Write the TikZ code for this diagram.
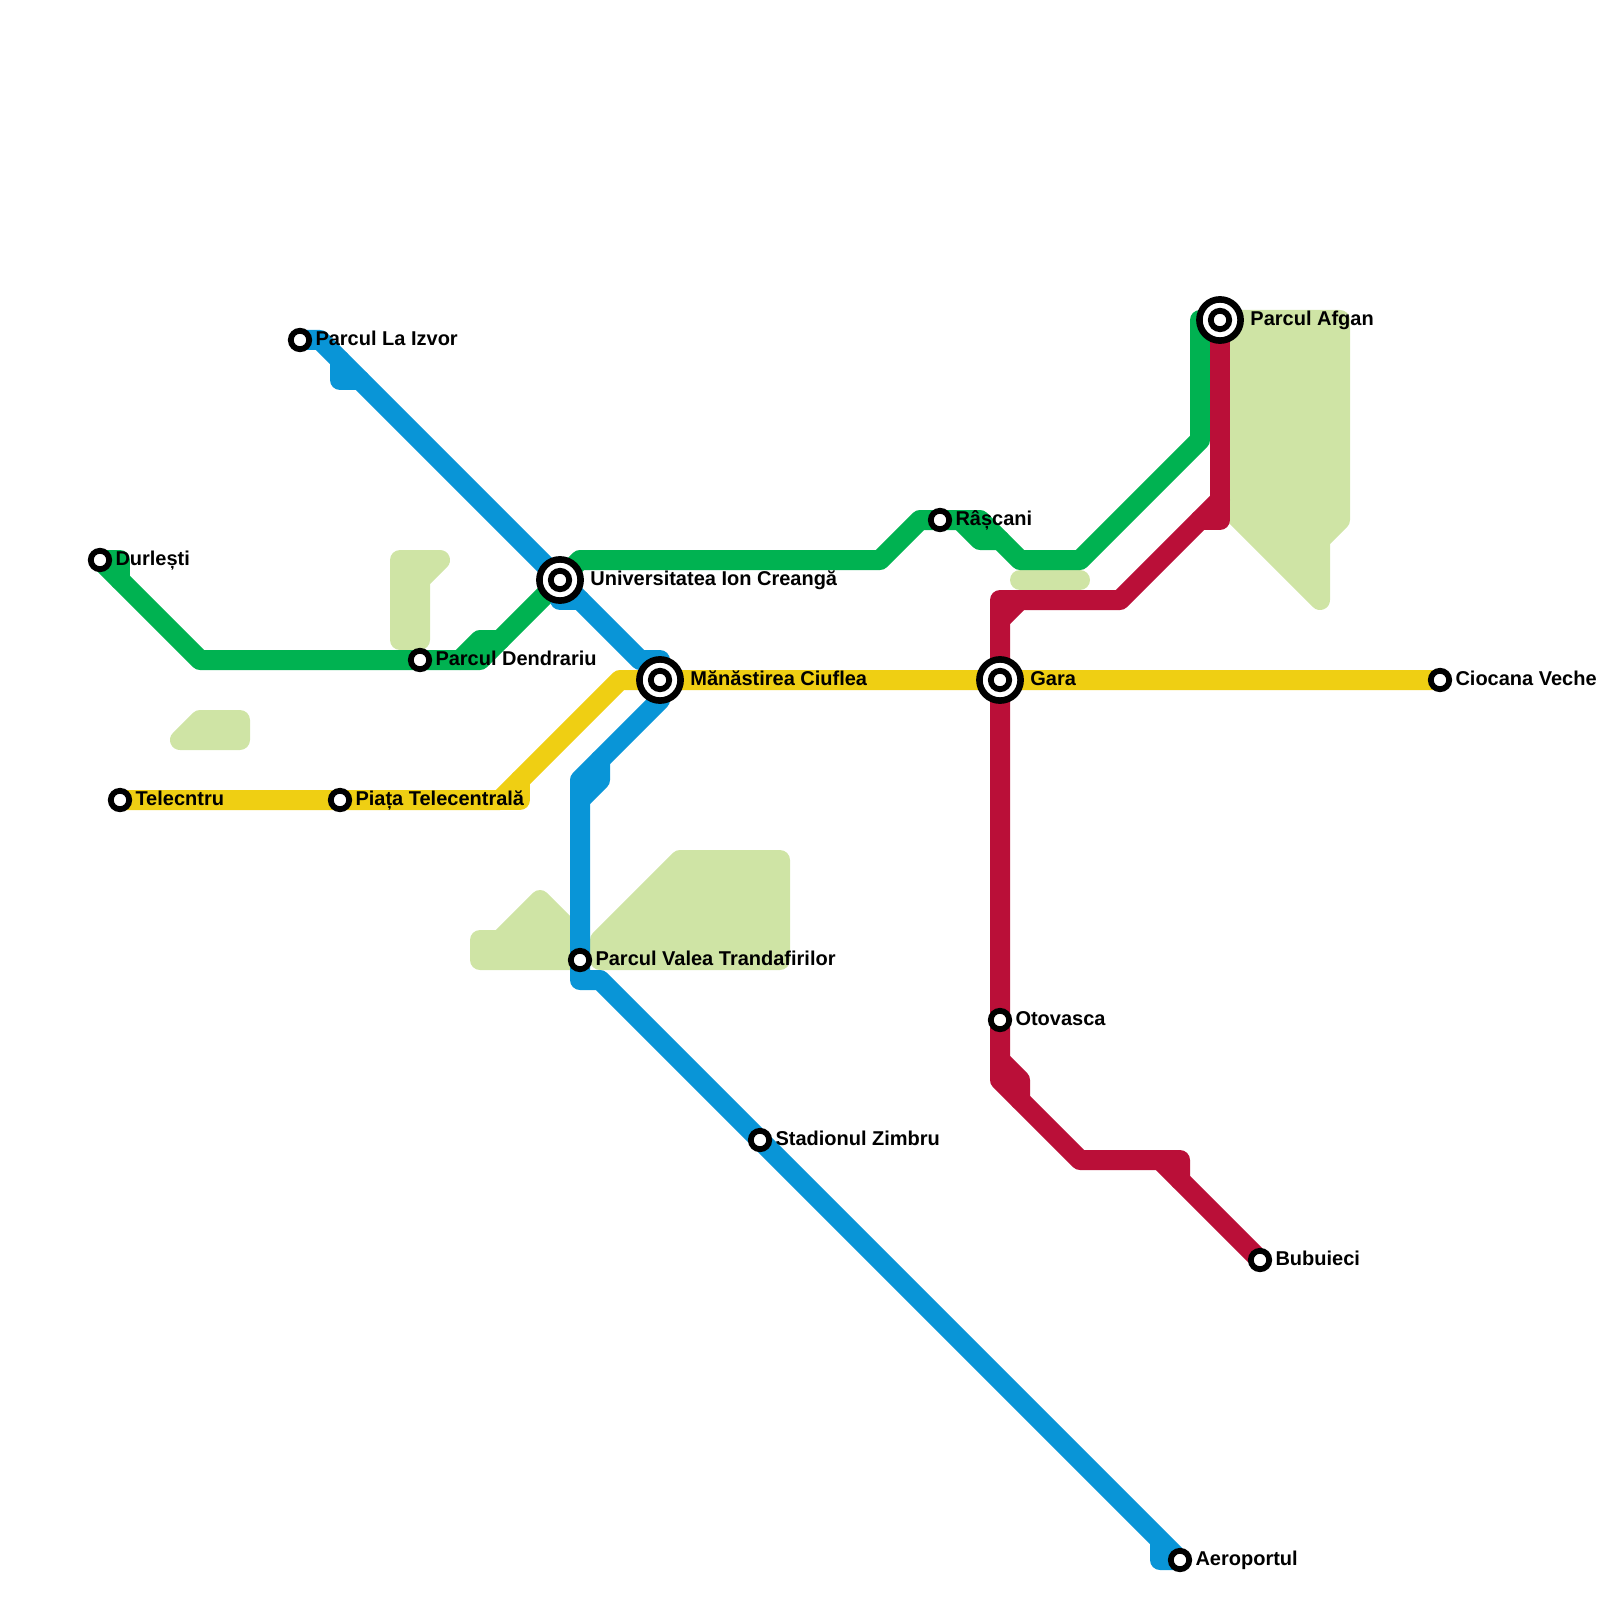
\documentclass[tikz,border=0pt]{standalone}
\usepackage{fontspec}
\setmainfont{Liberation Sans}
\usetikzlibrary{backgrounds,positioning}
\definecolor{linegreen}{RGB}{0,178,81}
\definecolor{lineblue}{RGB}{9,149,215}
\definecolor{lineyellow}{RGB}{239,207,19}
\definecolor{linered}{RGB}{186,15,56}
\definecolor{softpark}{RGB}{207,228,165}

\begin{document}
\begin{tikzpicture}[
  x=2mm, y=-2mm,
  font=\fontsize{5.69pt}{6pt}\selectfont\bfseries,
  metroline/.style={line width=2mm, line cap=round, line join=round},
  park/.style={draw=softpark, fill=softpark, line width=2mm, line cap=round, line join=round},
  halt/.style={circle, draw=black, fill=white, line width=.58mm, minimum size=1.84mm, inner sep=0pt},
  hub/.style={circle, draw=black, fill=white, line width=.66mm, minimum size=4.12mm, inner sep=0pt},
  lbl/.style={inner sep=0pt, text height=1.43mm, text depth=.33mm}
]
\useasboundingbox (0,0) rectangle (80,80);
% stations
\node[halt] (durl) at (5,28) {};
\node[halt] (izvor) at (15,17) {};
\node[halt] (telec) at (6,40) {};
\node[halt] (piata) at (17,40) {};
\node[halt] (dendr) at (21,33) {};
\node[hub] (unibig) at (28,29) {};
\node[halt] (uni) at (28,29) {};
\node[hub] (ciufbig) at (33,34) {};
\node[halt] (ciuf) at (33,34) {};
\node[halt] (valea) at (29,48) {};
\node[halt] (zimbru) at (38,57) {};
\node[halt] (aero) at (59,78) {};
\node[halt] (rasc) at (47,26) {};
\node[hub] (garabig) at (50,34) {};
\node[halt] (gara) at (50,34) {};
\node[halt] (otov) at (50,51) {};
\node[halt] (bubu) at (63,63) {};
\node[hub] (afganbig) at (61,16) {};
\node[halt] (afgan) at (61,16) {};
\node[halt] (ciocana) at (72,34) {};
% labels
\node[lbl, right=.27mm of durl] (durllbl) {Durlești};
\node[lbl, right=.27mm of izvor] (izvorlbl) {Parcul La Izvor};
\node[lbl, right=.27mm of telec] (teleclbl) {Telecntru};
\node[lbl, right=.27mm of piata] (piatalbl) {Piața Telecentrală};
\node[lbl, right=.27mm of dendr] (dendrlbl) {Parcul Dendrariu};
\node[lbl, right=.58mm of unibig] (unilbl) {Universitatea Ion Creangă};
\node[lbl, right=.58mm of ciufbig] (ciuflbl) {Mănăstirea Ciuflea};
\node[lbl, right=.27mm of valea] (valealbl) {Parcul Valea Trandafirilor};
\node[lbl, right=.27mm of zimbru] (zimbrulbl) {Stadionul Zimbru};
\node[lbl, right=.27mm of aero] (aerolbl) {Aeroportul};
\node[lbl, right=.27mm of rasc] (rasclbl) {Râșcani};
\node[lbl, right=.58mm of garabig] (garalbl) {Gara};
\node[lbl, right=.27mm of otov] (otovlbl) {Otovasca};
\node[lbl, right=.27mm of bubu] (bubulbl) {Bubuieci};
\node[lbl, right=.58mm of afganbig] (afganlbl) {Parcul Afgan};
\node[lbl, right=.27mm of ciocana] (ciocanalbl) {Ciocana Veche};
\begin{scope}[on background layer]
% parks
\draw[park] (20,28) -- (22,28) -- (21,29) -- (21,32) -- (20,32) -- cycle;
\draw[park] (9,37) -- (10,36) -- (12,36) -- (12,37) -- cycle;
\draw[park] (24,47) -- (25,47) -- (27,45) -- (29,47) -- (29,48) -- (24,48) -- cycle;
\draw[park] (30,47) -- (34,43) -- (39,43) -- (39,48) -- (30,48) -- cycle;
\draw[park] (51,29) -- (54,29);
\draw[park] (61,16) -- (67,16) -- (67,26) -- (66,27) -- (66,30) -- (61,25) -- cycle;
% green line
\draw[metroline, linegreen] (durl.center) -- (6,28) -- (6,29);
\draw[metroline, linegreen] (durl.center) -- (10,33) -- (24,33) -- (uni.center);
\draw[metroline, linegreen] (23,33) -- (24,32) -- (25,32);
\draw[metroline, linegreen] (uni.center) -- (29,28) -- (44,28) -- (46,26) -- (49,26) -- (51,28) -- (54,28) -- (60,22) -- (60,16) -- (afgan.center);
\draw[metroline, linegreen] (48,26) -- (49,27) -- (50,27);
% blue line
\draw[metroline, lineblue] (izvor.center) -- (16,17) -- (uni.center) -- (32,33) -- (33,33) -- (ciuf.center) -- (33,35) -- (29,39) -- (valea.center) -- (29,49) -- (30,49) -- (58,77) -- (58,78) -- (aero.center) -- (58,77);
\draw[metroline, lineblue] (17,18) -- (17,19) -- (18,19);
\draw[metroline, lineblue] (uni.center) -- (28,30) -- (29,30);
\draw[metroline, lineblue] (30,38) -- (30,39) -- (29,40);
% yellow line
\draw[metroline, lineyellow] (telec.center) -- (25,40) -- (31,34) -- (ciocana.center);
\draw[metroline, lineyellow] (25,40) -- (26,40) -- (26,39);
% red line
\draw[metroline, linered] (afgan.center) -- (61,26) -- (60,26);
\draw[metroline, linered] (61,25) -- (56,30) -- (50,30) -- (50,54) -- (54,58) -- (59,58) -- (59,59);
\draw[metroline, linered] (58,58) -- (bubu.center);
\draw[metroline, linered] (50,31) -- (51,30);
\draw[metroline, linered] (50,53) -- (51,54) -- (51,55);
\end{scope}
\end{tikzpicture}
\end{document}
